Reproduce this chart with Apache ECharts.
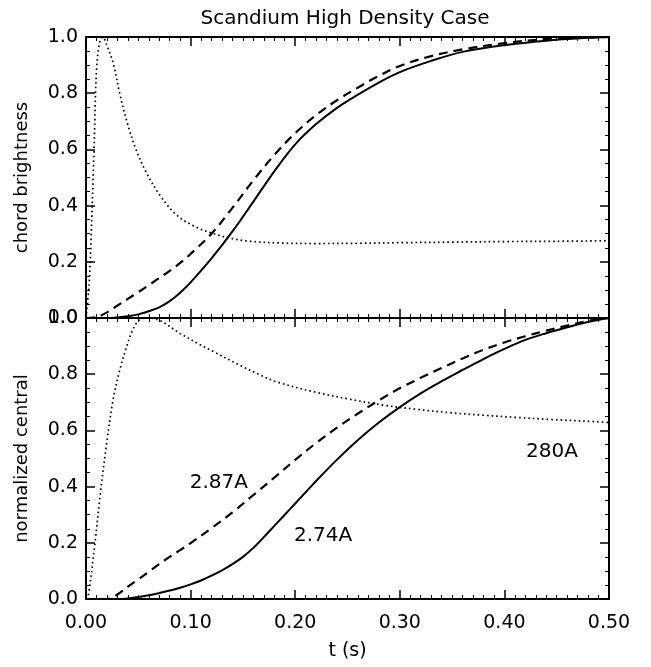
<!DOCTYPE html>
<html>
<head>
<meta charset="utf-8">
<script src="https://cdn.jsdelivr.net/npm/echarts@6/dist/echarts.min.js"></script>
<style>
html,body{margin:0;padding:0;background:#fff;}
#main{width:651px;height:667px;}
</style>
</head>
<body>
<div id="main"></div>
<script>
// ---- Data ----
const xTicks = [0, 0.1, 0.2, 0.3, 0.4, 0.5];
const yTicks = [0, 0.2, 0.4, 0.6, 0.8, 1.0];

// Top panel: chord brightness
const topSolidT = [0, 0.02, 0.03, 0.04, 0.05, 0.06, 0.07, 0.08, 0.09, 0.10, 0.12, 0.14, 0.16, 0.18, 0.20, 0.22, 0.24, 0.26, 0.28, 0.30, 0.33, 0.36, 0.40, 0.44, 0.48, 0.50];
const topSolidV = [0, 0.0, 0.002, 0.006, 0.013, 0.024, 0.038, 0.06, 0.09, 0.127, 0.212, 0.308, 0.414, 0.522, 0.618, 0.69, 0.748, 0.795, 0.838, 0.875, 0.915, 0.947, 0.971, 0.987, 0.997, 1.0];

const topDashT = [0, 0.01, 0.02, 0.03, 0.04, 0.05, 0.06, 0.07, 0.08, 0.09, 0.10, 0.12, 0.14, 0.16, 0.18, 0.20, 0.22, 0.24, 0.26, 0.28, 0.30, 0.33, 0.36, 0.40, 0.44, 0.48, 0.50];
const topDashV = [0, 0.003, 0.02, 0.044, 0.068, 0.092, 0.117, 0.142, 0.168, 0.196, 0.228, 0.3, 0.392, 0.49, 0.58, 0.658, 0.722, 0.775, 0.82, 0.862, 0.897, 0.932, 0.956, 0.978, 0.993, 0.999, 1.0];

const topDotT = [0, 0.003, 0.005, 0.0077, 0.010, 0.013, 0.016, 0.020, 0.026, 0.0325, 0.039, 0.048, 0.058, 0.071, 0.087, 0.106, 0.122, 0.138, 0.154, 0.185, 0.22, 0.26, 0.30, 0.35, 0.40, 0.45, 0.50];
const topDotV = [0, 0.12, 0.30, 0.60, 0.88, 0.98, 1.0, 0.97, 0.906, 0.795, 0.7, 0.598, 0.515, 0.435, 0.365, 0.322, 0.30, 0.284, 0.274, 0.267, 0.265, 0.266, 0.268, 0.27, 0.272, 0.273, 0.275];

// Bottom panel: normalized central
const botSolidT = [0, 0.03, 0.04, 0.05, 0.06, 0.07, 0.08, 0.09, 0.10, 0.11, 0.12, 0.13, 0.14, 0.15, 0.16, 0.17, 0.18, 0.19, 0.20, 0.21, 0.22, 0.24, 0.26, 0.28, 0.30, 0.32, 0.34, 0.36, 0.38, 0.40, 0.42, 0.44, 0.46, 0.48, 0.50];
const botSolidV = [0, 0, 0.002, 0.007, 0.013, 0.021, 0.03, 0.04, 0.052, 0.066, 0.083, 0.102, 0.124, 0.15, 0.182, 0.22, 0.26, 0.3, 0.34, 0.38, 0.42, 0.496, 0.566, 0.628, 0.683, 0.732, 0.775, 0.815, 0.854, 0.89, 0.922, 0.946, 0.967, 0.986, 1.0];

const botDashT = [0, 0.02, 0.03, 0.04, 0.05, 0.06, 0.07, 0.08, 0.09, 0.10, 0.12, 0.14, 0.16, 0.18, 0.20, 0.22, 0.24, 0.26, 0.28, 0.30, 0.32, 0.34, 0.36, 0.38, 0.40, 0.42, 0.44, 0.46, 0.48, 0.49, 0.50];
const botDashV = [0, 0, 0.016, 0.044, 0.07, 0.097, 0.124, 0.15, 0.174, 0.199, 0.252, 0.308, 0.37, 0.432, 0.495, 0.555, 0.61, 0.66, 0.707, 0.75, 0.787, 0.822, 0.856, 0.887, 0.913, 0.935, 0.955, 0.973, 0.99, 0.997, 1.0];

const botDotT = [0, 0.002, 0.0086, 0.0134, 0.0198, 0.026, 0.0325, 0.039, 0.045, 0.052, 0.06, 0.071, 0.09, 0.109, 0.122, 0.147, 0.166, 0.182, 0.2205, 0.252, 0.284, 0.316, 0.348, 0.38, 0.412, 0.444, 0.488, 0.50];
const botDotV = [0, 0.008, 0.20, 0.365, 0.556, 0.711, 0.818, 0.90, 0.96, 0.996, 1.0, 0.99, 0.945, 0.905, 0.88, 0.832, 0.798, 0.773, 0.735, 0.711, 0.69, 0.675, 0.663, 0.654, 0.646, 0.639, 0.631, 0.628];

// Curve annotations (text, t, value) in bottom panel
const annoText = ['2.87A', '2.74A', '280A'];
const annoT = [0.127, 0.2266, 0.4455];
const annoV = [0.414, 0.225, 0.525];

// ---- Chart ----
const FONT = 'DejaVu Sans';
const zip = (a, b) => a.map((x, i) => [x, b[i]]);

const grids = [
  {left: 86, top: 37, width: 523, height: 281},
  {left: 86, top: 318, width: 523, height: 281}
];

function xAxisDef(gridIndex, position, showLabels) {
  return {
    type: 'value', gridIndex, position,
    min: xTicks[0], max: xTicks[xTicks.length - 1], interval: 0.1,
    axisLine: {show: true, onZero: false, lineStyle: {color: '#000', width: 2}},
    axisTick: {show: true, inside: true, length: 9, lineStyle: {color: '#000', width: 1.5}},
    minorTick: {show: true, splitNumber: 10, length: 4, lineStyle: {color: '#000', width: 1}},
    splitLine: {show: false}, minorSplitLine: {show: false},
    axisLabel: {show: showLabels, margin: 15, color: '#000', fontFamily: FONT, fontSize: 19,
      formatter: v => v.toFixed(2)}
  };
}
function yAxisDef(gridIndex, position, showLabels, name) {
  return {
    type: 'value', gridIndex, position,
    min: yTicks[0], max: yTicks[yTicks.length - 1], interval: 0.2,
    name: name || '', nameLocation: 'middle', nameGap: 55,
    nameTextStyle: {color: '#000', fontFamily: FONT, fontSize: 18},
    axisLine: {show: true, onZero: false, lineStyle: {color: '#000', width: 2}},
    axisTick: {show: true, inside: true, length: 9, lineStyle: {color: '#000', width: 1.5}},
    minorTick: {show: true, splitNumber: 4, length: 4, lineStyle: {color: '#000', width: 1}},
    splitLine: {show: false}, minorSplitLine: {show: false},
    axisLabel: {show: showLabels, margin: 8, color: '#000', fontFamily: FONT, fontSize: 19,
      formatter: v => v.toFixed(1)}
  };
}

const xAxes = [
  xAxisDef(0, 'bottom', false),
  xAxisDef(0, 'top', false),
  Object.assign(xAxisDef(1, 'bottom', true), {
    name: 't (s)', nameLocation: 'middle', nameGap: 43,
    nameTextStyle: {color: '#000', fontFamily: FONT, fontSize: 19}
  }),
  xAxisDef(1, 'top', false)
];
const yAxes = [
  yAxisDef(0, 'left', true, 'chord brightness'),
  yAxisDef(0, 'right', false),
  yAxisDef(1, 'left', true, 'normalized central'),
  yAxisDef(1, 'right', false)
];

function line(t, v, xi, yi, style) {
  return {
    type: 'line', xAxisIndex: xi, yAxisIndex: yi,
    data: zip(t, v), showSymbol: false, symbol: 'none',
    smooth: 0.35, clip: true,
    lineStyle: Object.assign({color: '#000'}, style),
    silent: true, animation: false
  };
}
const SOLID = {type: 'solid', width: 2};
const DASH = {type: [9, 6], width: 2.2};
const DOT = {type: [1.6, 3], width: 1.7};

const option = {
  backgroundColor: '#fff',
  animation: false,
  title: {
    text: 'Scandium High Density Case', left: 340, top: 4, textAlign: 'center',
    textStyle: {color: '#000', fontFamily: FONT, fontSize: 20, fontWeight: 'normal'}
  },
  grid: grids,
  xAxis: xAxes,
  yAxis: yAxes,
  series: [
    line(topSolidT, topSolidV, 0, 0, SOLID),
    line(topDashT, topDashV, 0, 0, DASH),
    line(topDotT, topDotV, 0, 0, DOT),
    line(botSolidT, botSolidV, 2, 2, SOLID),
    line(botDashT, botDashV, 2, 2, DASH),
    line(botDotT, botDotV, 2, 2, DOT),
    {
      type: 'scatter', xAxisIndex: 2, yAxisIndex: 2, symbolSize: 1, silent: true,
      itemStyle: {color: '#fff', opacity: 1},
      data: annoText.map((s, i) => ({value: [annoT[i], annoV[i]], name: s})),
      label: {show: true, position: 'inside', formatter: p => p.name, opacity: 1,
        color: '#000', fontFamily: FONT, fontSize: 20}
    }
  ]
};

const chart = echarts.init(document.getElementById('main'), null, {renderer: 'canvas'});
chart.setOption(option);
</script>
</body>
</html>
